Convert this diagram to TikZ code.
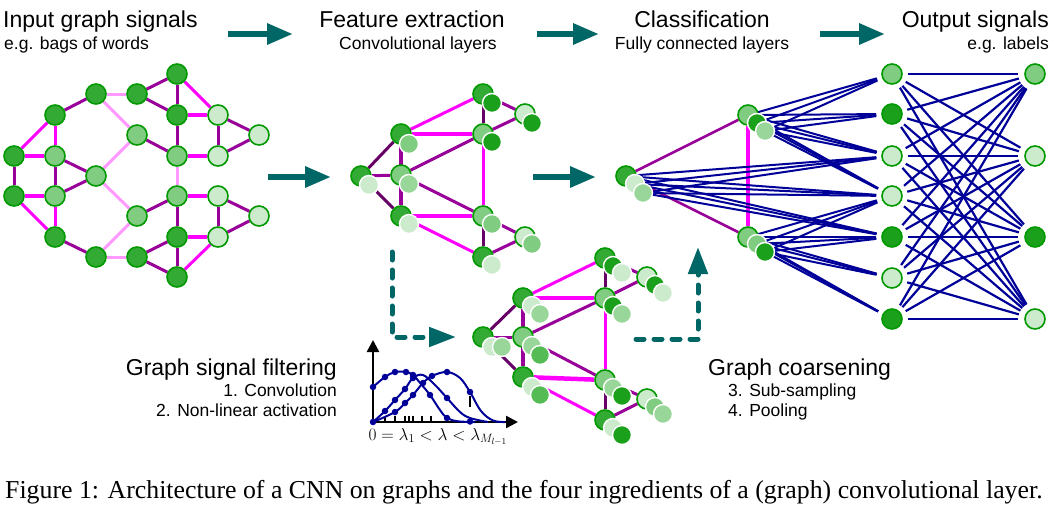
\documentclass[tikz,border=0pt]{standalone}
\usepackage{fontspec}
\setmainfont{Liberation Sans}
\newfontfamily\capfont{Liberation Serif}
\usetikzlibrary{arrows.meta}
\definecolor{gD}{RGB}{51,170,51}
\definecolor{gB}{RGB}{26,160,26}
\definecolor{gM}{RGB}{128,204,128}
\definecolor{gQ}{RGB}{153,214,153}
\definecolor{gK}{RGB}{85,187,85}
\definecolor{gL}{RGB}{204,234,204}
\definecolor{gborder}{RGB}{0,153,0}
\definecolor{epur}{RGB}{153,0,153}
\definecolor{edpur}{RGB}{102,0,102}
\definecolor{emag}{RGB}{255,0,255}
\definecolor{epink}{RGB}{255,153,255}
\definecolor{enavy}{RGB}{0,0,153}
\definecolor{arrteal}{RGB}{0,102,102}
\newcommand\ttlfont{\fontsize{23}{27}\selectfont}
\newcommand\subfont{\fontsize{17.5}{21}\selectfont}
\pgfdeclarelayer{edges}
\pgfsetlayers{edges,main}
\tikzset{
  gn/.style={circle,minimum size=20pt,inner sep=0pt,line width=1.6pt,draw=gborder},
  gf/.style={circle,minimum size=19pt,inner sep=0pt,line width=1.4pt,draw=white},
  ep/.style={epur,line width=3pt},
  ed/.style={edpur,line width=3pt},
  em/.style={emag,line width=3pt},
  emt/.style={emag,line width=4.5pt},
  epk/.style={epink,line width=3pt},
  nv/.style={enavy,line width=2pt},
  harr/.style={arrteal,line width=6pt,-{Triangle[length=26pt,width=20pt]}},
  darr/.style={arrteal,line width=5pt,line cap=round,dash pattern=on 8pt off 10pt,-{Triangle[length=27pt,width=19pt]}},
  lbl/.style={inner sep=0pt,text=black},
  dot/.style={circle,fill=enavy,inner sep=0pt,minimum size=6.5pt},
}
\begin{document}
\begin{tikzpicture}[x=1pt,y=-1pt]
\useasboundingbox (0,0) rectangle (1058,512);

% ---------- titles ----------
\node[lbl,anchor=base west,font=\ttlfont] (t1) at (3,27) {Input graph signals};
\node[lbl,anchor=base west,font=\subfont] (s1) at (4,49) {e.g. bags of words};
\node[lbl,anchor=base,font=\ttlfont] (t2) at (412,27) {Feature extraction};
\node[lbl,anchor=base,font=\subfont] (s2) at (418,49) {Convolutional layers};
\node[lbl,anchor=base,font=\ttlfont] (t3) at (702,27) {Classification};
\node[lbl,anchor=base,font=\subfont] (s3) at (702,49) {Fully connected layers};
\node[lbl,anchor=base east,font=\ttlfont] (t4) at (1049,27) {Output signals};
\node[lbl,anchor=base east,font=\subfont] (s4) at (1049,49) {e.g. labels};
\node[lbl,anchor=base east,font=\ttlfont] (t5) at (337,375) {Graph signal filtering};
\node[lbl,anchor=base east,font=\subfont] (s5) at (337,396) {1. Convolution};
\node[lbl,anchor=base east,font=\subfont] (s6) at (337,416) {2. Non-linear activation};
\node[lbl,anchor=base west,font=\ttlfont] (t6) at (708,375) {Graph coarsening};
\node[lbl,anchor=base west,font=\subfont] (s7) at (728,396) {3. Sub-sampling};
\node[lbl,anchor=base west,font=\subfont] (s8) at (728,416) {4. Pooling};
\node[lbl,anchor=base west,font=\capfont\fontsize{25.8}{30}\selectfont] (cap) at (5,498) {Figure 1: Architecture of a CNN on graphs and the four ingredients of a (graph) convolutional layer.};

% ---------- big arrows ----------
\coordinate (h1a) at (228,34); \coordinate (h1b) at (293,34);
\coordinate (h2a) at (537,34); \coordinate (h2b) at (599,34);
\coordinate (h3a) at (820,34); \coordinate (h3b) at (885,34);
\coordinate (m1a) at (268,177); \coordinate (m1b) at (331,177);
\coordinate (m2a) at (533,177); \coordinate (m2b) at (596,177);
\draw[harr] (h1a) -- (h1b);
\draw[harr] (h2a) -- (h2b);
\draw[harr] (h3a) -- (h3b);
\draw[harr] (m1a) -- (m1b);
\draw[harr] (m2a) -- (m2b);
\coordinate (d1a) at (392,252); \coordinate (d1b) at (456,337);
\coordinate (d2a) at (636,339); \coordinate (d2b) at (698,247);
\draw[darr] (d1a) |- (d1b);
\draw[darr] (d2a) -| (d2b);

% ---------- input graph ----------
\node[gn,fill=gD] (a1) at (14,156) {};
\node[gn,fill=gD] (a2) at (14,196) {};
\node[gn,fill=gD] (b1) at (55,115) {};
\node[gn,fill=gM] (b2) at (55,156) {};
\node[gn,fill=gM] (b3) at (55,196) {};
\node[gn,fill=gD] (b4) at (55,237) {};
\node[gn,fill=gD] (c1) at (96,94) {};
\node[gn,fill=gM] (c2) at (96,176) {};
\node[gn,fill=gD] (c3) at (96,257) {};
\node[gn,fill=gD] (d1) at (137,94) {};
\node[gn,fill=gM] (d2) at (137,135) {};
\node[gn,fill=gM] (d3) at (137,216) {};
\node[gn,fill=gD] (d4) at (137,257) {};
\node[gn,fill=gD] (e1) at (177,74) {};
\node[gn,fill=gD] (e2) at (177,115) {};
\node[gn,fill=gM] (e3) at (177,156) {};
\node[gn,fill=gM] (e4) at (177,196) {};
\node[gn,fill=gD] (e5) at (177,237) {};
\node[gn,fill=gD] (e6) at (177,277) {};
\node[gn,fill=gL] (f1) at (218,115) {};
\node[gn,fill=gL] (f2) at (218,156) {};
\node[gn,fill=gL] (f3) at (218,196) {};
\node[gn,fill=gL] (f4) at (218,237) {};
\node[gn,fill=gL] (g1) at (259,135) {};
\node[gn,fill=gL] (g2) at (259,216) {};
\begin{pgfonlayer}{edges}
\draw[em] (a1)--(b1); \draw[emt] (a1)--(b2); \draw[ep] (a1)--(a2);
\draw[emt] (a2)--(b3); \draw[em] (a2)--(b4);
\draw[em] (b1)--(b2); \draw[ep] (b1)--(c1);
\draw[ep] (b2)--(b3); \draw[ep] (b2)--(c2);
\draw[ep] (b3)--(c2); \draw[em] (b3)--(b4);
\draw[ep] (b4)--(c3);
\draw[epk] (c1)--(d1); \draw[epk] (c1)--(d2);
\draw[epk] (c2)--(d2); \draw[epk] (c2)--(d3);
\draw[epk] (c3)--(d3); \draw[epk] (c3)--(d4);
\draw[ep] (d1)--(e1); \draw[ep] (d1)--(e2);
\draw[ep] (d2)--(e3); \draw[ep] (d3)--(e4);
\draw[ep] (d4)--(e5); \draw[ep] (d4)--(e6);
\draw[ep] (e1)--(e2); \draw[em] (e1)--(f1);
\draw[emt] (e2)--(f1); \draw[ep] (e2)--(e3);
\draw[emt] (e3)--(f2); \draw[epk] (e3)--(e4);
\draw[emt] (e4)--(f3); \draw[ep] (e4)--(e5);
\draw[emt] (e5)--(f4); \draw[ep] (e5)--(e6);
\draw[em] (e6)--(f4);
\draw[ep] (f1)--(f2); \draw[ep] (f1)--(g1); \draw[ep] (f2)--(g1);
\draw[ep] (f3)--(f4); \draw[ep] (f3)--(g2); \draw[ep] (f4)--(g2);
\end{pgfonlayer}

% ---------- feature extraction (pairs) ----------
\node[gn,fill=gD] (fl) at (361,176) {}; \node[gf,fill=gL] (fl2) at (369,185) {};
\node[gn,fill=gD] (fa) at (401,134) {}; \node[gf,fill=gM] (fa2) at (409,144) {};
\node[gn,fill=gM] (fb) at (401,175) {}; \node[gf,fill=gQ] (fb2) at (409,184) {};
\node[gn,fill=gD] (fc) at (401,216) {}; \node[gf,fill=gL] (fc2) at (409,224) {};
\node[gn,fill=gD] (fd) at (483,94) {};  \node[gf,fill=gB] (fd2) at (492,103) {};
\node[gn,fill=gM] (fe) at (483,134) {}; \node[gf,fill=gB] (fe2) at (492,142) {};
\node[gn,fill=gM] (ff) at (483,216) {}; \node[gf,fill=gM] (ff2) at (492,224) {};
\node[gn,fill=gD] (fg) at (483,257) {}; \node[gf,fill=gL] (fg2) at (492,265) {};
\node[gn,fill=gL] (fh) at (525,114) {}; \node[gf,fill=gB] (fh2) at (532,123) {};
\node[gn,fill=gL] (fi) at (525,237) {}; \node[gf,fill=gM] (fi2) at (532,244) {};
\begin{pgfonlayer}{edges}
\draw[ed] (fl)--(fa); \draw[ep] (fl)--(fb); \draw[ed] (fl)--(fc);
\draw[ep,line width=4pt] (fa)--(fc);
\draw[em] (fa)--(fd); \draw[emt] (fa)--(fe);
\draw[ep] (fb)--(fe); \draw[ep] (fb)--(ff);
\draw[emt] (fc)--(ff); \draw[em] (fc)--(fg);
\draw[ed] (fd)--(fe); \draw[ep] (fd)--(fh); \draw[ep] (fe)--(fh);
\draw[em] (fe)--(ff);
\draw[ed] (ff)--(fg); \draw[ep] (ff)--(fi); \draw[ep] (fg)--(fi);
\end{pgfonlayer}

% ---------- coarsened graph (triples) ----------
\node[gn,fill=gD] (sl) at (483,337) {}; \node[gf,fill=gL] (sl2) at (492,347) {}; \node[gf,fill=gQ] (sl3) at (502,347) {};
\node[gn,fill=gD] (sa) at (523,298) {}; \node[gf,fill=gL] (sa2) at (532,306) {}; \node[gf,fill=gQ] (sa3) at (540,314) {};
\node[gn,fill=gM] (sb) at (523,337) {}; \node[gf,fill=gQ] (sb2) at (532,346) {}; \node[gf,fill=gK] (sb3) at (540,355) {};
\node[gn,fill=gD] (sc) at (523,377) {}; \node[gf,fill=gL] (sc2) at (532,387) {}; \node[gf,fill=gK] (sc3) at (540,395) {};
\node[gn,fill=gD] (sd) at (605,258) {}; \node[gf,fill=gB] (sd2) at (613,266) {}; \node[gf,fill=gL] (sd3) at (622,273) {};
\node[gn,fill=gM] (se) at (605,298) {}; \node[gf,fill=gB] (se2) at (613,306) {}; \node[gf,fill=gQ] (se3) at (622,314) {};
\node[gn,fill=gM] (sf) at (605,380) {}; \node[gf,fill=gQ] (sf2) at (613,388) {}; \node[gf,fill=gB] (sf3) at (622,396) {};
\node[gn,fill=gD] (sg) at (605,420) {}; \node[gf,fill=gL] (sg2) at (613,428) {}; \node[gf,fill=gB] (sg3) at (622,435) {};
\node[gn,fill=gL] (sh) at (647,277) {}; \node[gf,fill=gB] (sh2) at (655,285) {}; \node[gf,fill=gL] (sh3) at (663,293) {};
\node[gn,fill=gL] (si) at (647,399) {}; \node[gf,fill=gM] (si2) at (655,407) {}; \node[gf,fill=gQ] (si3) at (663,414) {};
\begin{pgfonlayer}{edges}
\draw[ed] (sl)--(sa); \draw[ep] (sl)--(sb); \draw[ed] (sl)--(sc);
\draw[ep,line width=4pt] (sa)--(sc);
\draw[em] (sa)--(sd); \draw[emt] (sa)--(se);
\draw[ep] (sb)--(se); \draw[ep] (sb)--(sf);
\draw[emt] (sc)--(sf); \draw[em] (sc)--(sg);
\draw[ed] (sd)--(se); \draw[ep] (sd)--(sh); \draw[ep] (se)--(sh);
\draw[em] (se)--(sf);
\draw[ed] (sf)--(sg); \draw[ep] (sf)--(si); \draw[ep] (sg)--(si);
\end{pgfonlayer}

% ---------- classification ----------
\node[gn,fill=gD] (cl) at (626,176) {}; \node[gf,fill=gL] (cl2) at (635,184) {}; \node[gf,fill=gQ] (cl3) at (643,193) {};
\node[gn,fill=gM] (ct) at (748,115) {}; \node[gf,fill=gB] (ct2) at (757,123) {}; \node[gf,fill=gQ] (ct3) at (765,131) {};
\node[gn,fill=gM] (cb) at (748,237) {}; \node[gf,fill=gM] (cb2) at (757,244) {}; \node[gf,fill=gB] (cb3) at (765,252) {};
\node[gn,fill=gM] (oa1) at (892,74) {};
\node[gn,fill=gB] (oa2) at (892,114) {};
\node[gn,fill=gL] (oa3) at (892,156) {};
\node[gn,fill=gL] (oa4) at (892,196) {};
\node[gn,fill=gB] (oa5) at (892,237) {};
\node[gn,fill=gL] (oa6) at (892,278) {};
\node[gn,fill=gB] (oa7) at (892,319) {};
\node[gn,fill=gM] (ob1) at (1035,74) {};
\node[gn,fill=gL] (ob2) at (1035,156) {};
\node[gn,fill=gB] (ob3) at (1035,237) {};
\node[gn,fill=gL] (ob4) at (1035,319) {};
\begin{pgfonlayer}{edges}
\draw[ep,line width=2.5pt] (cl)--(ct); \draw[ep,line width=2.5pt] (cl)--(cb);
\draw[emag,line width=4pt] (ct)--(cb);
\foreach \s in {ct,ct2,ct3}{\foreach \t in {oa1,oa2,oa3,oa4}{\draw[nv,shorten >=5pt] (\s.center)--(\t);}}
\foreach \s in {cl,cl2,cl3}{\foreach \t in {oa3,oa4,oa5}{\draw[nv,shorten >=5pt] (\s.center)--(\t);}}
\foreach \s in {cb,cb2,cb3}{\foreach \t in {oa4,oa5,oa6,oa7}{\draw[nv,shorten >=5pt] (\s.center)--(\t);}}
\foreach \s in {oa1,oa2,oa3,oa4,oa5,oa6,oa7}{\foreach \t in {ob1,ob2,ob3,ob4}{\draw[nv,line width=2.2pt,shorten <=5pt,shorten >=6pt] (\s)--(\t);}}
\end{pgfonlayer}

% ---------- filter plot ----------
\draw[line width=2.5pt,-{Triangle[length=12pt,width=12pt]}] (373,423.2) -- (373,340);
\draw[line width=2.5pt,-{Triangle[length=12pt,width=12pt]}] (371.8,422) -- (518,422);
\foreach \x in {385,395,405,409,413,422,431} \draw[line width=2pt] (\x,415.5) -- (\x,422);
\draw[line width=2pt] (470,396) -- (470,407);
\draw[nv] plot[smooth,tension=0.6] coordinates {(373,387) (385,377) (395,372) (406,372) (413,375) (421,384) (430,395) (440,410) (447,418) (458,421.3) (475,422)};
\draw[nv] plot[smooth,tension=0.6] coordinates {(373,422) (385,411) (395,400) (405,389) (413,378) (423,375) (435,385) (447,398) (460,412) (470,418) (488,422)};
\draw[nv] plot[smooth,tension=0.6] coordinates {(373,422) (395,412) (405,403) (413,395) (423,383) (432,376) (447,372) (460,378) (470,392) (481,411) (493,420.5) (505,422)};
\foreach \p in {(373,387),(385,377),(395,372),(406,372),(413,375),(430,395),(447,418),(470,421.5),
  (373,422),(385,411),(395,400),(405,389),(413,378),(447,398),
  (395,412),(405,403),(413,395),(423,383),(432,376),(447,372),(470,392)}
  \node[dot] at \p {};
\node[lbl,font=\fontsize{18.5}{22}\selectfont] (lam) at (438,437) {$0=\lambda_1<\lambda<\lambda_{M_{l-1}}$};
\end{tikzpicture}
\end{document}
